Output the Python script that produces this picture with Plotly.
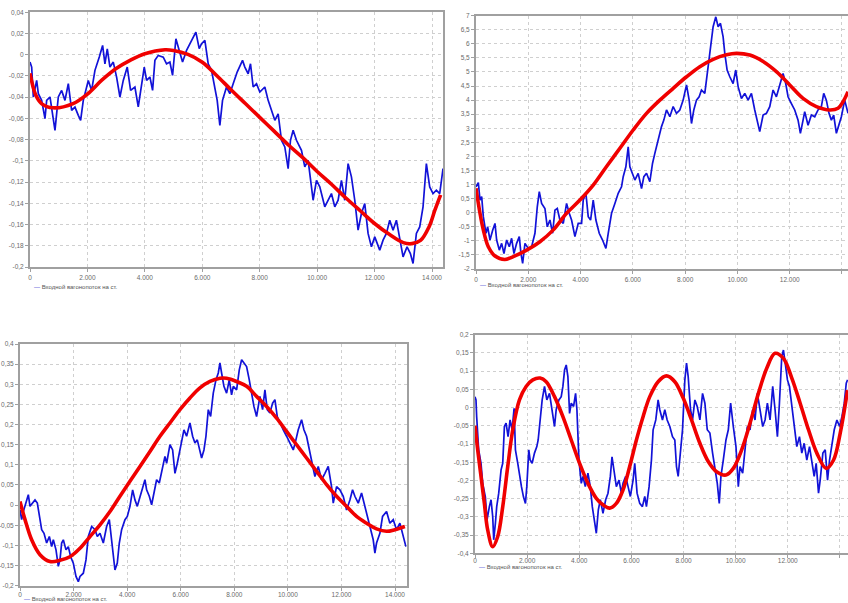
import plotly.graph_objects as go

LEGEND_TEXT = "Входной вагонопоток на ст."

x_tick_vals = [0, 2000, 4000, 6000, 8000, 10000, 12000, 14000]
x_tick_text = ["0", "2.000", "4.000", "6.000", "8.000", "10.000", "12.000", "14.000"]

p1_tick_vals = [0.04, 0.02, 0, -0.02, -0.04, -0.06, -0.08, -0.1, -0.12, -0.14, -0.16, -0.18, -0.2]
p1_tick_text = ["0,04", "0,02", "0", "-0,02", "-0,04", "-0,06", "-0,08", "-0,1", "-0,12", "-0,14", "-0,16",
                "-0,18", "-0,2"]
p2_tick_vals = [7, 6.5, 6, 5.5, 5, 4.5, 4, 3.5, 3, 2.5, 2, 1.5, 1, 0.5, 0, -0.5, -1, -1.5, -2]
p2_tick_text = ["7", "6,5", "6", "5,5", "5", "4,5", "4", "3,5", "3", "2,5", "2", "1,5", "1", "0,5", "0", "-0,5",
                "-1", "-1,5", "-2"]
p3_tick_vals = [0.4, 0.35, 0.3, 0.25, 0.2, 0.15, 0.1, 0.05, 0, -0.05, -0.1, -0.15, -0.2]
p3_tick_text = ["0,4", "0,35", "0,3", "0,25", "0,2", "0,15", "0,1", "0,05", "0", "-0,05", "-0,1", "-0,15", "-0,2"]
p4_tick_vals = [0.2, 0.15, 0.1, 0.05, 0, -0.05, -0.1, -0.15, -0.2, -0.25, -0.3, -0.35, -0.4]
p4_tick_text = ["0,2", "0,15", "0,1", "0,05", "0", "-0,05", "-0,1", "-0,15", "-0,2", "-0,25", "-0,3", "-0,35",
                "-0,4"]

# ---------- Panel 1 (top-left) ----------
p1_x = [0, 58, 116, 232, 290, 406, 522, 580, 696, 754, 812, 870, 986, 1102, 1218, 1334, 1450, 1566, 1682, 1763,
        1856, 2030, 2146, 2262, 2413, 2529, 2610, 2691, 2784, 2900, 3016, 3132, 3248, 3387, 3503, 3654, 3770, 3886,
        3979, 4060, 4176, 4269, 4350, 4466, 4640, 4756, 4872, 4965, 5081, 5197, 5313, 5452, 5626, 5777, 5893, 5974,
        6090, 6206, 6322, 6438, 6519, 6612, 6705, 6844, 6960, 7076, 7215, 7401, 7482, 7598, 7679, 7772, 7888, 8004,
        8178, 8294, 8410, 8526, 8642, 8758, 8874, 8990, 9071, 9164, 9280, 9454, 9570, 9686, 9802, 9860, 9976, 10092,
        10266, 10382, 10498, 10614, 10730, 10846, 10962, 11078, 11194, 11310, 11426, 11542, 11658, 11774, 11890,
        12006, 12180, 12296, 12412, 12528, 12644, 12760, 12876, 12992, 13131, 13247, 13340, 13456, 13572, 13688,
        13804, 13920, 14036, 14152, 14268, 14384]
p1_y = [-0.0069, -0.0116, -0.0398, -0.0242, -0.0367, -0.043, -0.0602, -0.043, -0.0398, -0.0492, -0.0618, -0.0712,
        -0.0398, -0.0336, -0.043, -0.0273, -0.0524, -0.0493, -0.0571, -0.0618, -0.043, -0.0242, -0.0336, -0.0147,
        -0.0022, 0.0088, -0.0085, 0.0056, -0.0116, -0.0069, -0.021, -0.0398, -0.0242, -0.0116, -0.0336, -0.0304,
        -0.0492, -0.0273, -0.0116, -0.0242, -0.021, -0.0336, -0.0053, -0.0006, -0.0022, -0.0085, -0.0069, -0.0195,
        0.0151, 0.0041, -0.0069, 0.0041, 0.0135, 0.0213, 0.0057, 0.0104, 0.0135, -0.0085, -0.0147, -0.0336, -0.043,
        -0.0665, -0.043, -0.0304, -0.0367, -0.0273, -0.0163, -0.0053, -0.0116, -0.0179, -0.0085, -0.0304, -0.0273,
        -0.0351, -0.0304, -0.043, -0.0524, -0.0618, -0.0556, -0.0806, -0.0869, -0.1073, -0.0806, -0.0712, -0.0806,
        -0.09, -0.1057, -0.0995, -0.1245, -0.1371, -0.1183, -0.1245, -0.1433, -0.1371, -0.1308, -0.1433, -0.1371,
        -0.1183, -0.1371, -0.1026, -0.1151, -0.1371, -0.1653, -0.1496, -0.1402, -0.1684, -0.181, -0.1716, -0.1841,
        -0.1747, -0.1684, -0.1559, -0.1653, -0.1559, -0.1747, -0.1904, -0.181, -0.1873, -0.1967, -0.1684, -0.1622,
        -0.1433, -0.1026, -0.1245, -0.1308, -0.1277, -0.1308, -0.1073]
p1_fit_x = [0, 200, 400, 800, 1500, 2000, 2500, 3000, 3500, 4000, 4700, 5000, 5500, 6000, 6500, 7000, 7500, 8000,
            8500, 9000, 9500, 10000, 10500, 11000, 11500, 12000, 12500, 13000, 13300, 13600, 13900, 14100, 14300]
p1_fit_y = [-0.0175, -0.038, -0.046, -0.050, -0.046, -0.037, -0.024, -0.013, -0.005, 0.001, 0.0047, 0.004, 0.0003,
            -0.007, -0.0195, -0.033, -0.046, -0.059, -0.072, -0.085, -0.097, -0.110, -0.122, -0.135, -0.147, -0.159,
            -0.169, -0.177, -0.178, -0.175, -0.162, -0.1465, -0.132]

# ---------- Panel 2 (top-right) ----------
p2_x = [0, 89, 153, 217, 280, 382, 446, 535, 637, 726, 790, 892, 981, 1070, 1172, 1274, 1363, 1452, 1554, 1656,
        1720, 1784, 1873, 2000, 2128, 2255, 2344, 2421, 2510, 2637, 2726, 2828, 2930, 3019, 3109, 3210, 3338, 3465,
        3567, 3656, 3784, 3911, 4039, 4102, 4204, 4293, 4383, 4484, 4586, 4714, 4841, 4969, 5058, 5185, 5313, 5440,
        5567, 5631, 5733, 5822, 5886, 5988, 6077, 6204, 6332, 6421, 6523, 6650, 6752, 6841, 6931, 7032, 7096, 7185,
        7287, 7415, 7542, 7669, 7797, 7924, 8052, 8154, 8243, 8332, 8434, 8536, 8625, 8752, 8880, 8943, 9007, 9071,
        9173, 9262, 9351, 9453, 9517, 9606, 9708, 9835, 9937, 10026, 10154, 10281, 10409, 10536, 10663, 10791,
        10854, 10982, 11109, 11237, 11364, 11491, 11619, 11746, 11848, 11937, 12065, 12192, 12320, 12409, 12511,
        12574, 12702, 12829, 12957, 13084, 13211, 13301, 13402, 13504, 13594, 13683, 13785, 13862, 13976, 14103,
        14231]
p2_y = [0.92, 1.07, 0.45, 0.57, -0.14, -0.73, -0.50, -0.97, -0.62, -0.38, -0.97, -1.33, -1.09, -1.45, -0.97, -1.21,
        -0.91, -1.45, -1.09, -0.85, -1.45, -1.80, -1.09, -1.27, -1.21, -0.73, 0.21, 0.75, 0.33, 0.15, -0.50, -0.26,
        -0.73, 0.09, 0.15, -0.26, -0.38, 0.33, -0.02, -0.26, -0.85, -0.38, -0.38, 0.45, 0.69, -0.14, -0.26, 0.45,
        -0.26, -0.73, -0.97, -1.27, -0.73, -0.02, 0.33, 0.69, 0.92, 1.28, 1.63, 2.34, 1.63, 1.40, 1.16, 1.40, 0.86,
        1.28, 1.40, 1.10, 1.75, 2.11, 2.46, 2.82, 3.06, 3.29, 3.65, 3.41, 3.77, 3.53, 3.65, 4.00, 4.54, 4.00, 3.17,
        3.65, 4.00, 4.12, 4.36, 4.24, 5.19, 5.66, 6.13, 6.61, 6.96, 6.61, 6.73, 6.25, 5.66, 5.07, 4.83, 4.59, 5.07,
        4.48, 4.06, 4.24, 4.00, 4.24, 3.65, 3.06, 2.88, 3.47, 3.53, 3.77, 4.36, 4.12, 4.59, 4.95, 4.59, 4.12, 3.88,
        3.65, 3.29, 2.82, 3.29, 3.59, 3.11, 3.47, 3.41, 3.65, 3.77, 4.24, 4.00, 3.53, 3.29, 3.47, 2.82, 3.06, 3.41,
        4.00, 3.53]
p2_fit_x = [0, 153, 280, 471, 726, 1100, 1427, 1937, 2446, 2956, 3465, 3975, 4484, 4994, 5504, 6013, 6523, 7032,
            7542, 8052, 8561, 9071, 9580, 9962, 10472, 10982, 11491, 12001, 12510, 13020, 13530, 13849, 14040, 14231]
p2_fit_y = [0.87, -0.02, -0.61, -1.21, -1.54, -1.66, -1.56, -1.33, -1.03, -0.61, -0.02, 0.45, 0.98, 1.64, 2.29,
            2.94, 3.53, 4.00, 4.42, 4.83, 5.19, 5.45, 5.61, 5.66, 5.60, 5.37, 5.01, 4.54, 4.06, 3.77, 3.65, 3.71,
            3.94, 4.30]

# ---------- Panel 3 (bottom-left) ----------
p3_x = [0, 62, 124, 224, 311, 373, 473, 560, 647, 722, 809, 896, 995, 1095, 1182, 1244, 1344, 1431, 1493, 1555,
        1617, 1717, 1804, 1891, 1990, 2090, 2177, 2239, 2364, 2463, 2550, 2675, 2799, 2886, 2986, 3110, 3234, 3334,
        3421, 3483, 3545, 3632, 3707, 3794, 3919, 4006, 4105, 4205, 4292, 4379, 4478, 4578, 4665, 4727, 4827, 4914,
        5001, 5100, 5200, 5287, 5349, 5411, 5474, 5598, 5698, 5785, 5872, 5946, 6033, 6120, 6220, 6344, 6444, 6531,
        6618, 6693, 6780, 6867, 6942, 7029, 7116, 7215, 7315, 7402, 7464, 7526, 7613, 7713, 7812, 7899, 7962, 8086,
        8186, 8273, 8360, 8459, 8559, 8646, 8733, 8832, 8957, 9056, 9143, 9230, 9330, 9430, 9517, 9604, 9703, 9828,
        9952, 10076, 10201, 10300, 10387, 10512, 10599, 10698, 10798, 10885, 11009, 11134, 11258, 11383, 11507,
        11631, 11694, 11818, 11942, 12067, 12191, 12316, 12415, 12502, 12627, 12751, 12875, 13000, 13087, 13186,
        13249, 13311, 13435, 13535, 13684, 13808, 13933, 14057, 14182, 14306, 14406]
p3_y = [-0.012, -0.036, -0.016, 0.005, 0.026, -0.003, 0.005, 0.013, 0.005, -0.028, -0.061, -0.070, -0.094, -0.078,
        -0.103, -0.086, -0.111, -0.152, -0.136, -0.094, -0.086, -0.111, -0.103, -0.128, -0.144, -0.177, -0.190,
        -0.177, -0.169, -0.136, -0.078, -0.053, -0.061, -0.078, -0.070, -0.094, -0.053, -0.036, -0.094, -0.136,
        -0.161, -0.144, -0.094, -0.061, -0.036, -0.028, -0.003, 0.038, 0.013, -0.003, 0.022, 0.046, 0.063, 0.038,
        0.022, 0.001, 0.030, 0.063, 0.055, 0.079, 0.104, 0.121, 0.104, 0.150, 0.137, 0.079, 0.104, 0.129, 0.162,
        0.187, 0.171, 0.204, 0.171, 0.154, 0.162, 0.137, 0.117, 0.137, 0.171, 0.237, 0.220, 0.278, 0.311, 0.328,
        0.353, 0.328, 0.295, 0.278, 0.311, 0.274, 0.295, 0.286, 0.336, 0.361, 0.353, 0.344, 0.311, 0.278, 0.245,
        0.220, 0.270, 0.237, 0.286, 0.237, 0.229, 0.253, 0.262, 0.220, 0.204, 0.187, 0.171, 0.154, 0.137, 0.162,
        0.187, 0.212, 0.187, 0.171, 0.137, 0.104, 0.071, 0.096, 0.063, 0.079, 0.096, 0.046, 0.005, 0.046, 0.038,
        0.022, -0.012, 0.013, 0.038, 0.022, 0.005, 0.030, -0.003, -0.036, -0.061, -0.086, -0.119, -0.094, -0.070,
        -0.028, -0.016, -0.045, -0.036, -0.061, -0.045, -0.078, -0.103]
p3_fit_x = [0, 187, 435, 746, 1120, 1493, 1866, 2239, 2612, 2986, 3359, 3732, 4105, 4478, 4852, 5225, 5598, 5971,
            6344, 6718, 7091, 7464, 7713, 8086, 8459, 8832, 9206, 9579, 9952, 10325, 10698, 11072, 11445, 11818,
            12191, 12564, 12938, 13311, 13684, 13995, 14368]
p3_fit_y = [0.009, -0.036, -0.086, -0.123, -0.140, -0.137, -0.128, -0.107, -0.078, -0.049, -0.016, 0.022, 0.059,
            0.096, 0.133, 0.171, 0.204, 0.237, 0.266, 0.291, 0.307, 0.315, 0.315, 0.307, 0.295, 0.270, 0.245, 0.216,
            0.183, 0.150, 0.117, 0.084, 0.051, 0.022, -0.003, -0.028, -0.045, -0.059, -0.065, -0.061, -0.053]

# ---------- Panel 4 (bottom-right) ----------
p4_x = [0, 38, 64, 141, 231, 295, 397, 462, 551, 615, 679, 718, 782, 833, 910, 1000, 1064, 1128, 1192, 1269, 1346,
        1423, 1500, 1551, 1641, 1705, 1782, 1859, 1936, 1987, 2064, 2115, 2192, 2282, 2372, 2423, 2500, 2577, 2667,
        2756, 2859, 2961, 3051, 3115, 3218, 3308, 3372, 3436, 3500, 3564, 3628, 3692, 3782, 3859, 3910, 3987, 4077,
        4141, 4231, 4333, 4423, 4500, 4590, 4654, 4731, 4808, 4910, 5013, 5102, 5192, 5256, 5320, 5423, 5525, 5615,
        5679, 5782, 5872, 5961, 6064, 6128, 6218, 6320, 6423, 6513, 6577, 6679, 6769, 6833, 6936, 7025, 7089, 7192,
        7282, 7372, 7474, 7577, 7666, 7730, 7795, 7859, 7961, 8051, 8115, 8179, 8269, 8346, 8436, 8525, 8628, 8730,
        8820, 8910, 9012, 9115, 9205, 9295, 9371, 9435, 9525, 9628, 9718, 9807, 9910, 10012, 10102, 10166, 10269,
        10359, 10448, 10551, 10653, 10743, 10833, 10935, 11038, 11128, 11217, 11320, 11422, 11512, 11602, 11679,
        11769, 11833, 11910, 11987, 12064, 12153, 12243, 12346, 12448, 12538, 12628, 12730, 12833, 12923, 13012,
        13089, 13179, 13243, 13346, 13436, 13525, 13602, 13692, 13782, 13884, 13987, 14077, 14166, 14243, 14294]
p4_y = [0.030, 0.021, -0.025, -0.116, -0.153, -0.208, -0.245, -0.308, -0.272, -0.253, -0.299, -0.363, -0.318,
        -0.272, -0.235, -0.171, -0.153, -0.052, -0.043, -0.080, -0.034, -0.061, -0.002, -0.116, -0.153, -0.189,
        -0.217, -0.245, -0.263, -0.217, -0.116, -0.144, -0.153, -0.125, -0.107, -0.089, -0.034, 0.021, 0.058,
        0.021, 0.039, -0.006, -0.052, -0.006, 0.021, 0.030, 0.058, 0.103, 0.117, 0.085, -0.016, 0.012, 0.003,
        0.039, -0.006, -0.144, -0.208, -0.189, -0.217, -0.180, -0.217, -0.272, -0.308, -0.345, -0.281, -0.253,
        -0.290, -0.253, -0.235, -0.189, -0.135, -0.171, -0.217, -0.199, -0.235, -0.208, -0.189, -0.217, -0.244,
        -0.199, -0.153, -0.235, -0.263, -0.272, -0.244, -0.272, -0.217, -0.144, -0.061, -0.034, 0.021, -0.006,
        -0.034, -0.006, -0.034, -0.052, -0.080, -0.089, -0.162, -0.189, -0.144, -0.061, 0.076, 0.122, 0.085,
        -0.006, -0.034, 0.021, 0.003, -0.034, 0.039, 0.012, -0.061, -0.070, -0.125, -0.171, -0.208, -0.263,
        -0.189, -0.144, -0.089, -0.061, 0.012, -0.052, -0.107, -0.217, -0.162, -0.180, -0.107, -0.052, -0.061,
        -0.006, -0.034, 0.039, -0.006, -0.052, -0.034, 0.012, -0.034, 0.058, -0.006, -0.080, 0.012, 0.140, 0.158,
        0.113, 0.076, 0.058, 0.003, -0.061, -0.107, -0.080, -0.125, -0.098, -0.144, -0.107, -0.144, -0.189,
        -0.153, -0.235, -0.199, -0.125, -0.116, -0.199, -0.144, -0.098, -0.061, -0.034, -0.052, -0.025, 0.012,
        0.067, 0.076]
p4_fit_x = [0, 103, 231, 359, 487, 679, 872, 1064, 1256, 1449, 1705, 1961, 2218, 2500, 2731, 3051, 3372, 3692,
            4013, 4333, 4654, 4910, 5166, 5423, 5679, 5935, 6192, 6448, 6705, 7025, 7346, 7666, 7987, 8307, 8628,
            8948, 9269, 9628, 9910, 10230, 10551, 10872, 11192, 11513, 11833, 12154, 12474, 12795, 13115, 13474,
            13756, 14012, 14294]
p4_fit_y = [-0.050, -0.116, -0.189, -0.263, -0.336, -0.382, -0.354, -0.272, -0.162, -0.061, 0.021, 0.058, 0.076,
            0.081, 0.071, 0.030, -0.025, -0.089, -0.153, -0.208, -0.249, -0.267, -0.276, -0.263, -0.226, -0.162,
            -0.089, -0.025, 0.030, 0.071, 0.087, 0.071, 0.026, -0.034, -0.098, -0.148, -0.176, -0.185, -0.167,
            -0.116, -0.043, 0.039, 0.108, 0.149, 0.135, 0.081, 0.012, -0.061, -0.125, -0.167, -0.144, -0.070, 0.048]

W, H = 848, 603
panels = [
    # (blue x, blue y, fit x, fit y, px left, px right, px top, px bottom, xmax, ymin, ymax,
    #  y tick vals, y tick text, legend y px, x label standoff)
    (p1_x, p1_y, p1_fit_x, p1_fit_y, 30, 443, 12.3, 267, 14383, -0.2, 0.04, p1_tick_vals, p1_tick_text, 287, 0),
    (p2_x, p2_y, p2_fit_x, p2_fit_y, 476, 848, 15.7, 269, 14230, -2, 7, p2_tick_vals, p2_tick_text, 285, 0),
    (p3_x, p3_y, p3_fit_x, p3_fit_y, 20, 406.7, 344, 585.7, 14436, -0.2, 0.4, p3_tick_vals, p3_tick_text, 598.5, -2),
    (p4_x, p4_y, p4_fit_x, p4_fit_y, 475, 848, 334.7, 553.3, 14310, -0.4, 0.2, p4_tick_vals, p4_tick_text, 567, -3),
]

FONT = "Liberation Sans"
fig = go.Figure()
layout = dict(
    width=W, height=H, margin=dict(l=0, r=0, t=0, b=0, autoexpand=False),
    paper_bgcolor="white", plot_bgcolor="white",
    showlegend=False,
    font=dict(family=FONT, size=6.5, color="#6a6a6a"),
)
annotations = []
for i, (bx, by, fx, fy, L, R, T, B, xmax, ymin, ymax, yv, yt, ly, so) in enumerate(panels, start=1):
    xa = "x" if i == 1 else f"x{i}"
    ya = "y" if i == 1 else f"y{i}"
    fig.add_trace(go.Scatter(x=bx, y=by, mode="lines", xaxis=xa, yaxis=ya,
                             line=dict(color="#1212d8", width=1.7), name=LEGEND_TEXT))
    fig.add_trace(go.Scatter(x=fx, y=fy, mode="lines", xaxis=xa, yaxis=ya,
                             line=dict(color="#f00000", width=3.6, shape="spline", smoothing=1.0),
                             name="fit"))
    common = dict(showline=True, mirror=True, linecolor="#a0a0a0", linewidth=2,
                  showgrid=True, gridcolor="#cfcfcf", griddash="dot", gridwidth=1,
                  zeroline=False, ticks="outside", ticklen=3, tickcolor="#a0a0a0",
                  automargin=False, tickfont=dict(family=FONT, size=6.5, color="#6a6a6a"))
    layout["xaxis" if i == 1 else f"xaxis{i}"] = dict(
        domain=[L / W, min(R / W, 1.0)], range=[0, xmax], tickmode="array",
        tickvals=x_tick_vals, ticktext=x_tick_text, ticklabelstandoff=so, anchor=ya, **common)
    layout["yaxis" if i == 1 else f"yaxis{i}"] = dict(
        domain=[1 - B / H, 1 - T / H], range=[ymin, ymax], tickmode="array",
        tickvals=yv, ticktext=yt, anchor=xa, **common)
    annotations.append(dict(
        xref="paper", yref="paper", x=(L + 2) / W, y=1 - ly / H, xanchor="left", yanchor="middle",
        showarrow=False, text=f"<span style='color:#3030d0'>—</span> {LEGEND_TEXT}",
        font=dict(family=FONT, size=6, color="#555555")))

layout["annotations"] = annotations
fig.update_layout(**layout)
fig.write_html(
    "out.html",
    config={"displayModeBar": False},
    post_script="document.body.style.margin='0';document.body.style.padding='0';"
                "document.documentElement.style.overflow='hidden';",
)
